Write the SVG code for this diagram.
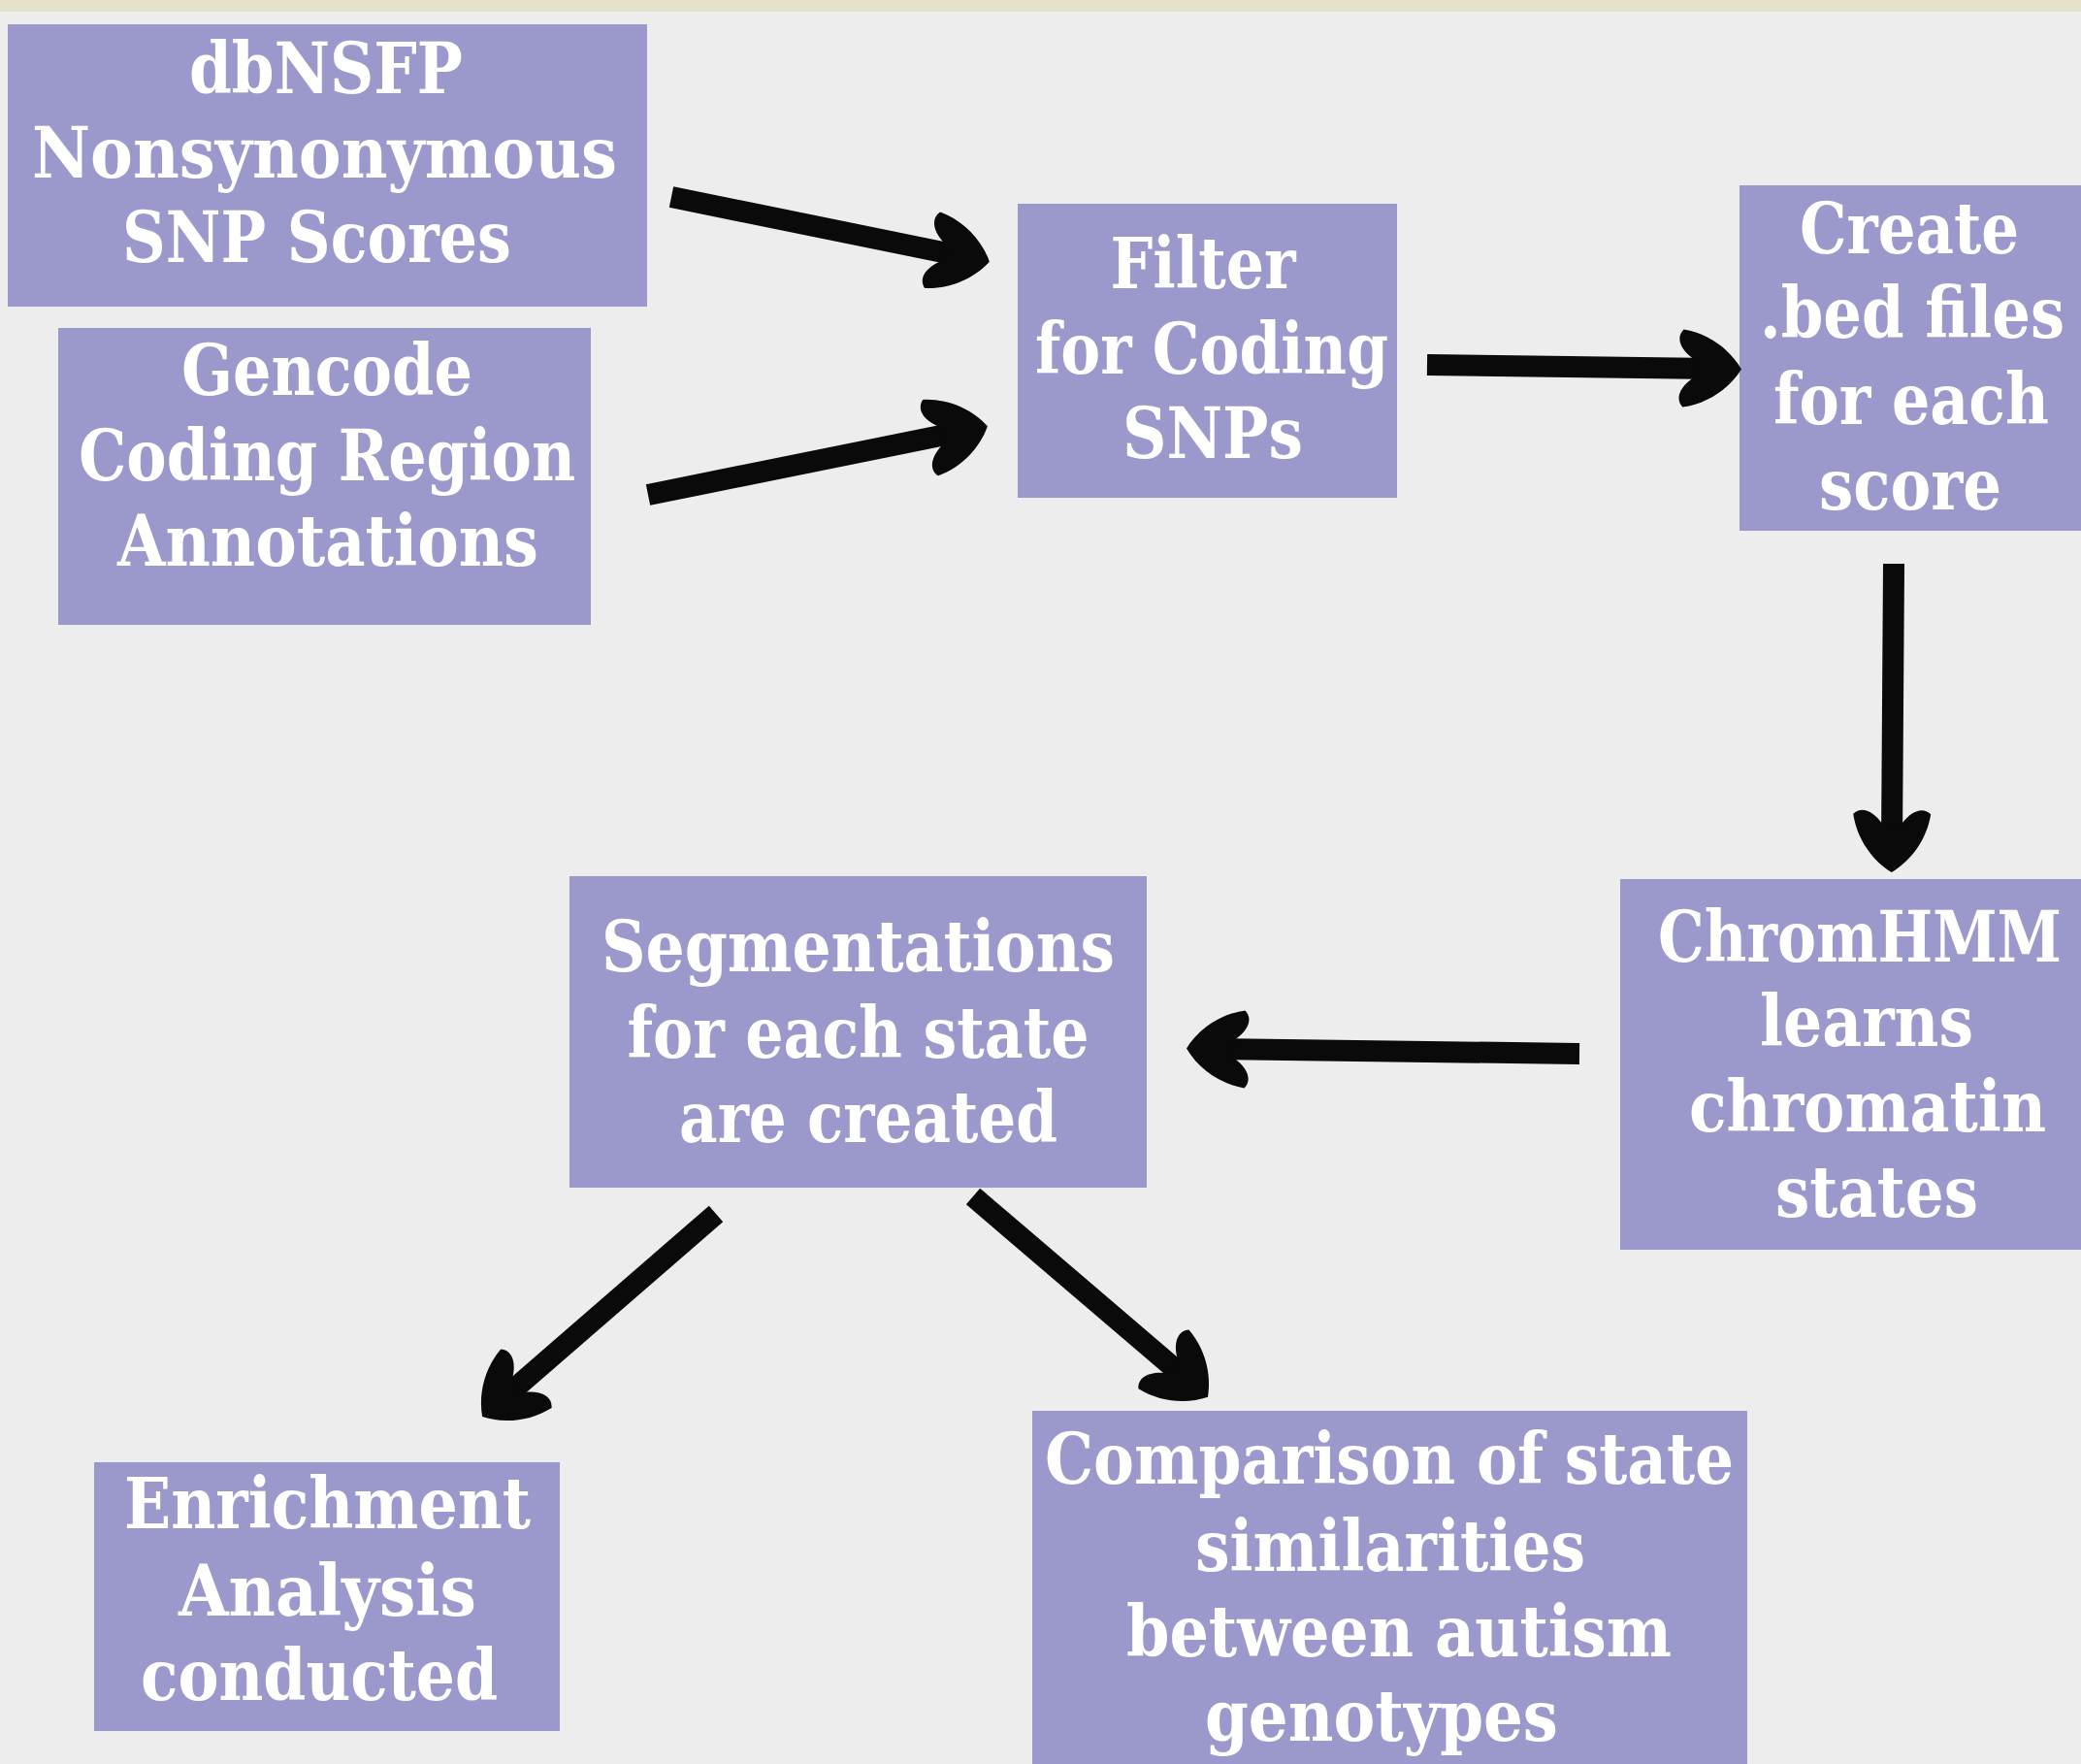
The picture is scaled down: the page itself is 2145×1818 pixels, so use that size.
<svg xmlns="http://www.w3.org/2000/svg" width="2145" height="1818" viewBox="0 0 2145 1818">
<style>
.box{fill:#9b99cb}
.t{font-family:"DejaVu Serif Condensed","DejaVu Serif",serif;font-weight:bold;font-stretch:condensed;font-size:72px;fill:#ffffff;text-anchor:middle}
.shaft{fill:none;stroke:#0a0a0a;stroke-width:22;stroke-linecap:butt}
</style>
<defs>
<marker id="head" markerUnits="userSpaceOnUse" viewBox="-72 -44 84 88" markerWidth="84" markerHeight="88" refX="-25" refY="0" orient="auto">
<path d="M4,0 C-8,-20 -30,-36 -56,-40 C-64,-32 -60,-20 -46,-10 L-40,0 L-46,10 C-60,20 -64,32 -56,40 C-30,36 -8,20 4,0 Z" fill="#0a0a0a"/>
</marker>
</defs>
<rect x="0" y="0" width="2145" height="1818" fill="#ededed"/>
<rect x="0" y="0" width="2145" height="12" fill="#e6e1cb"/>

<g id="node-dbnsfp">
<rect class="box" x="8" y="25" width="659" height="291"/>
<text class="t" x="336" y="96" textLength="282" lengthAdjust="spacingAndGlyphs">dbNSFP</text>
<text class="t" x="334.5" y="183" textLength="603" lengthAdjust="spacingAndGlyphs">Nonsynonymous</text>
<text class="t" x="326.5" y="270" textLength="401" lengthAdjust="spacingAndGlyphs">SNP Scores</text>
</g>
<g id="node-gencode">
<rect class="box" x="60" y="338" width="549" height="306"/>
<text class="t" x="337" y="407" textLength="300" lengthAdjust="spacingAndGlyphs">Gencode</text>
<text class="t" x="337" y="495" textLength="512" lengthAdjust="spacingAndGlyphs">Coding Region</text>
<text class="t" x="338" y="583" textLength="434" lengthAdjust="spacingAndGlyphs">Annotations</text>
</g>
<g id="node-filter">
<rect class="box" x="1049" y="210" width="391" height="303"/>
<text class="t" x="1240" y="297" textLength="191" lengthAdjust="spacingAndGlyphs">Filter</text>
<text class="t" x="1249" y="385" textLength="364" lengthAdjust="spacingAndGlyphs">for Coding</text>
<text class="t" x="1250" y="472" textLength="186" lengthAdjust="spacingAndGlyphs">SNPs</text>
</g>
<g id="node-bed">
<rect class="box" x="1793" y="191" width="352" height="356"/>
<text class="t" x="1968" y="261" textLength="226" lengthAdjust="spacingAndGlyphs">Create</text>
<text class="t" x="1971" y="348" textLength="314" lengthAdjust="spacingAndGlyphs">.bed files</text>
<text class="t" x="1970" y="437" textLength="284" lengthAdjust="spacingAndGlyphs">for each</text>
<text class="t" x="1969" y="525" textLength="188" lengthAdjust="spacingAndGlyphs">score</text>
</g>
<g id="node-chromhmm">
<rect class="box" x="1670" y="906" width="475" height="382"/>
<text class="t" x="1917" y="991" textLength="416" lengthAdjust="spacingAndGlyphs">ChromHMM</text>
<text class="t" x="1924" y="1078" textLength="220" lengthAdjust="spacingAndGlyphs">learns</text>
<text class="t" x="1925" y="1166" textLength="368" lengthAdjust="spacingAndGlyphs">chromatin</text>
<text class="t" x="1934.5" y="1254" textLength="209" lengthAdjust="spacingAndGlyphs">states</text>
</g>
<g id="node-segmentations">
<rect class="box" x="587" y="903" width="595" height="321"/>
<text class="t" x="884.5" y="1001" textLength="529" lengthAdjust="spacingAndGlyphs">Segmentations</text>
<text class="t" x="884.5" y="1089.5" textLength="476" lengthAdjust="spacingAndGlyphs">for each state</text>
<text class="t" x="895" y="1177" textLength="390" lengthAdjust="spacingAndGlyphs">are created</text>
</g>
<g id="node-enrichment">
<rect class="box" x="97" y="1507" width="480" height="277"/>
<text class="t" x="337.5" y="1575" textLength="419" lengthAdjust="spacingAndGlyphs">Enrichment</text>
<text class="t" x="337.5" y="1665" textLength="307" lengthAdjust="spacingAndGlyphs">Analysis</text>
<text class="t" x="329" y="1752" textLength="368" lengthAdjust="spacingAndGlyphs">conducted</text>
</g>
<g id="node-comparison">
<rect class="box" x="1064" y="1454" width="737" height="364"/>
<text class="t" x="1432" y="1529" textLength="710" lengthAdjust="spacingAndGlyphs">Comparison of state</text>
<text class="t" x="1433" y="1618.5" textLength="402" lengthAdjust="spacingAndGlyphs">similarities</text>
<text class="t" x="1442" y="1707" textLength="562" lengthAdjust="spacingAndGlyphs">between autism</text>
<text class="t" x="1424" y="1794" textLength="364" lengthAdjust="spacingAndGlyphs">genotypes</text>
</g>

<g id="connectors">
<path class="shaft" d="M692,203 L991.5,264" marker-end="url(#head)"/>
<path class="shaft" d="M668,510 L989.5,445" marker-end="url(#head)"/>
<path class="shaft" d="M1471,376 L1766,380" marker-end="url(#head)"/>
<path class="shaft" d="M1952,581 L1950,870" marker-end="url(#head)"/>
<path class="shaft" d="M1628,1086 L1252,1081" marker-end="url(#head)"/>
<path class="shaft" d="M738,1251 L519,1441" marker-end="url(#head)"/>
<path class="shaft" d="M1003,1233 L1223,1421" marker-end="url(#head)"/>
</g>
</svg>
